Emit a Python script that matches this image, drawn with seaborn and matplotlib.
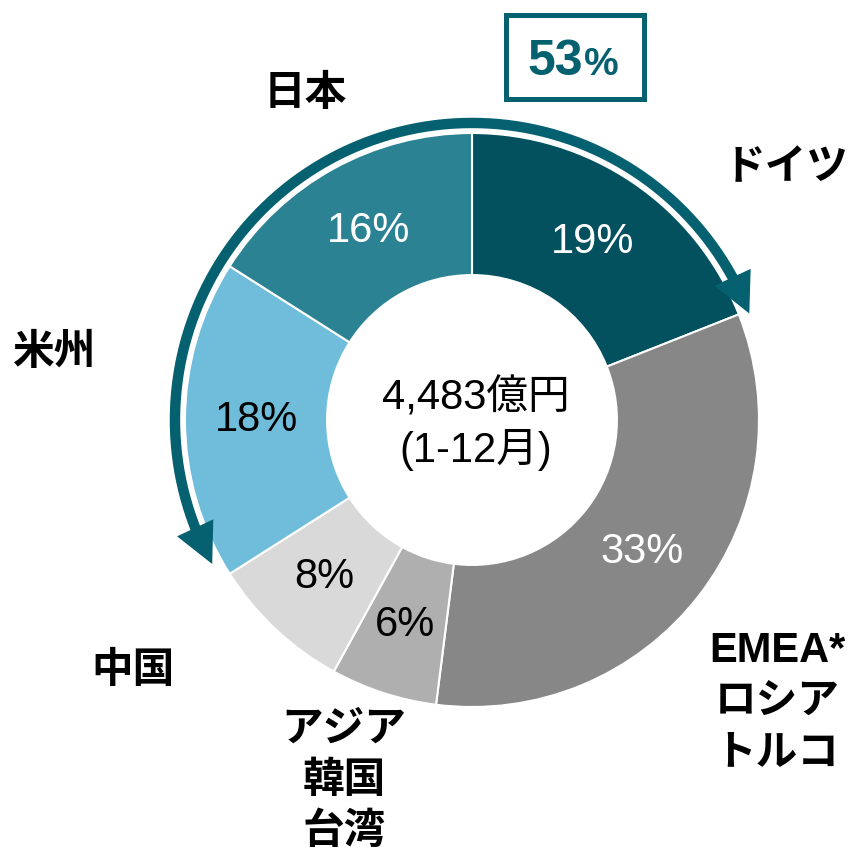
import numpy as np
import matplotlib.pyplot as plt
import seaborn as sns
from matplotlib.patches import Polygon, Rectangle

# Data (share of sales by region, 1-12月)
regions = ['ドイツ', 'EMEA*\nロシア\nトルコ', 'アジア\n韓国\n台湾', '中国', '米州', '日本']
shares = [19, 33, 6, 8, 18, 16]
total_lines = ['4,483億円', '(1-12月)']
highlight_regions = ['ドイツ', '米州', '日本']

colors = ['#03505F', '#878787', '#AFAFAF', '#D9D9D9', '#70BDDB', '#2A8293']
pct_colors = ['white', 'white', 'black', 'black', 'black', 'white']
accent = '#05606F'

sns.set_theme(style='white')
plt.rcParams['font.family'] = ['Liberation Sans', 'Noto Sans CJK JP', 'DejaVu Sans']

fig = plt.figure(figsize=(8.52, 8.56), dpi=100)
ax = fig.add_axes([0, 0, 1, 1])

# pixel layout helper (donut centre and outer radius in pixels)
CX, CY, R_PX = 472, 420, 287
def P(x, y):
    return ((x - CX) / R_PX, (CY - y) / R_PX)

wedges, texts, autotexts = ax.pie(
    shares, colors=colors, startangle=90, counterclock=False, radius=1,
    autopct=lambda p: f'{p:.0f}%', pctdistance=0.75,
    wedgeprops=dict(width=0.495, edgecolor='white', linewidth=1.5),
    textprops=dict(fontsize=30))
for t, c in zip(autotexts, pct_colors):
    t.set_color(c)

# centre text
for line, y in zip(total_lines, [398, 450]):
    ax.text(*P(476, y), line, ha='center', va='center', fontsize=30, color='black')

# region labels
label_pos = {
    'ドイツ': (786, 168),
    'EMEA*\nロシア\nトルコ': (777, 651),
    'アジア\n韓国\n台湾': (344, 730),
    '中国': (133, 671),
    '米州': (55, 353),
    '日本': (305, 94),
}
for name in regions:
    x0, y0 = label_pos[name]
    for i, line in enumerate(name.split('\n')):
        ax.text(*P(x0, y0 + 51 * i), line, ha='center', va='center',
                fontsize=30, fontweight='bold', color='black')

# double-headed arc arrow spanning the highlighted regions
r_arc = 1.035
tip_a, tip_b = 209.0, 21.0          # degrees
head_len, head_half = 40 / R_PX, 20 / R_PX
dth = np.degrees(head_len / r_arc)

def on_arc(deg):
    t = np.radians(deg)
    return np.array([r_arc * np.cos(t), r_arc * np.sin(t)])

theta = np.radians(np.linspace(tip_a - dth + 1, tip_b + dth - 1, 300))
ax.plot(r_arc * np.cos(theta), r_arc * np.sin(theta), color=accent,
        linewidth=7.5, solid_capstyle='butt')

for tip_deg, base_deg in [(tip_a, tip_a - dth), (tip_b, tip_b + dth)]:
    tip, base = on_arc(tip_deg), on_arc(base_deg)
    d = (tip - base) / np.linalg.norm(tip - base)
    n = np.array([-d[1], d[0]])
    ax.add_patch(Polygon([tip, base + head_half * n, base - head_half * n],
                         closed=True, facecolor=accent, edgecolor='none'))

# highlighted total in a box
highlight = sum(s for r, s in zip(regions, shares) if r in highlight_regions)
bx0, by0 = P(505.5, 98.5)
bx1, by1 = P(643.5, 15.5)
ax.add_patch(Rectangle((bx0, by0), bx1 - bx0, by1 - by0, fill=False,
                       edgecolor=accent, linewidth=3.6))
ax.text(*P(583, 75), f'{highlight}', ha='right', va='baseline', fontsize=36,
        fontweight='bold', color=accent)
ax.text(*P(584, 75), '%', ha='left', va='baseline', fontsize=28,
        fontweight='bold', color=accent)

ax.set_xlim(-CX / R_PX, (852 - CX) / R_PX)
ax.set_ylim((CY - 856) / R_PX, CY / R_PX)
ax.set_aspect('auto')
ax.axis('off')

fig.savefig('out.png', dpi=100, facecolor='white')
